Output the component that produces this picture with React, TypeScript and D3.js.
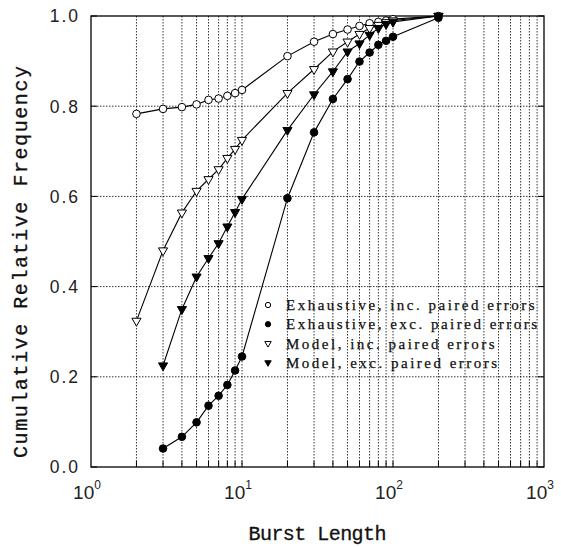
import React from "react";
import * as d3 from "d3";

const burstLengths = [2, 3, 4, 5, 6, 7, 8, 9, 10, 20, 30, 40, 50, 60, 70, 80, 90, 100, 200];
const burstLengthsFrom3 = [3, 4, 5, 6, 7, 8, 9, 10, 20, 30, 40, 50, 60, 70, 80, 90, 100, 200];

const exhaustiveInc = [0.783, 0.794, 0.798, 0.804, 0.814, 0.817, 0.823, 0.829, 0.836, 0.911, 0.943, 0.960, 0.970, 0.978, 0.984, 0.987, 0.990, 0.993, 1.0];
const exhaustiveExc = [0.041, 0.067, 0.099, 0.136, 0.158, 0.182, 0.214, 0.245, 0.596, 0.742, 0.816, 0.860, 0.899, 0.919, 0.936, 0.945, 0.954, 0.996];
const modelInc = [0.324, 0.480, 0.564, 0.612, 0.638, 0.660, 0.685, 0.705, 0.725, 0.829, 0.882, 0.921, 0.943, 0.960, 0.973, 0.980, 0.986, 0.990, 1.0];
const modelExc = [0.225, 0.350, 0.422, 0.463, 0.496, 0.533, 0.565, 0.594, 0.747, 0.826, 0.877, 0.921, 0.939, 0.958, 0.973, 0.982, 0.987, 1.0];

const seriesNames = [
  "Exhaustive, inc. paired errors",
  "Exhaustive, exc. paired errors",
  "Model, inc. paired errors",
  "Model, exc. paired errors",
];
const yTicks = [0, 0.2, 0.4, 0.6, 0.8, 1.0];
const xDecades = [0, 1, 2, 3];

type Marker = "circleOpen" | "circleFilled" | "triOpen" | "triFilled";

const series: { name: string; xs: number[]; ys: number[]; marker: Marker }[] = [
  { name: seriesNames[0], xs: burstLengths, ys: exhaustiveInc, marker: "circleOpen" },
  { name: seriesNames[1], xs: burstLengthsFrom3, ys: exhaustiveExc, marker: "circleFilled" },
  { name: seriesNames[2], xs: burstLengths, ys: modelInc, marker: "triOpen" },
  { name: seriesNames[3], xs: burstLengthsFrom3, ys: modelExc, marker: "triFilled" },
];

const W = 561;
const H = 547;
const L = 91, R = 544, T = 16, B = 467;

function MarkerShape({ type, x, y, scale = 1 }: { type: Marker; x: number; y: number; scale?: number }) {
  const filled = type === "circleFilled" || type === "triFilled";
  if (type === "circleOpen" || type === "circleFilled") {
    return <circle cx={x} cy={y} r={3.8 * scale} fill={filled ? "#000" : "#fff"} stroke="#000" strokeWidth={1} />;
  }
  const path = d3.symbol().type(d3.symbolTriangle).size(36 * scale * scale)()!;
  return (
    <path d={path} transform={`translate(${x},${y}) rotate(180)`} fill={filled ? "#000" : "#fff"} stroke="#000" strokeWidth={1} />
  );
}

export default function App() {
  const x = d3.scaleLog().domain([1, 1000]).range([L, R]);
  const y = d3.scaleLinear().domain([0, 1]).range([B, T]);

  const minor: number[] = [];
  for (let d = 0; d < 3; d++) {
    for (let k = 2; k <= 9; k++) minor.push(k * Math.pow(10, d));
  }
  const majors = [10, 100];
  const line = d3.line<[number, number]>().x((d) => x(d[0])).y((d) => y(d[1]));

  const tickFont = "'Liberation Sans', Arial, sans-serif";
  const titleFont = "'Liberation Mono', 'Courier New', monospace";

  return (
    <svg width={W} height={H} style={{ position: "absolute", left: 0, top: 0, background: "#fff" }}>
      {/* grid */}
      {[...minor, ...majors].map((v) => (
        <line key={"gx" + v} x1={x(v)} x2={x(v)} y1={T} y2={B} stroke="#000" strokeWidth={0.8} strokeDasharray="1.5,1.5" />
      ))}
      {yTicks.filter((v) => v > 0 && v < 1).map((v) => (
        <line key={"gy" + v} x1={L} x2={R} y1={y(v)} y2={y(v)} stroke="#000" strokeWidth={0.8} strokeDasharray="1.5,1.5" />
      ))}
      {/* ticks */}
      {[...minor, ...majors].map((v) => (
        <line key={"tx" + v} x1={x(v)} x2={x(v)} y1={B} y2={B - 6} stroke="#000" strokeWidth={1} />
      ))}
      {yTicks.map((v) => (
        <g key={"ty" + v}>
          <line x1={L} x2={L + 6} y1={y(v)} y2={y(v)} stroke="#000" strokeWidth={1} />
          <line x1={R} x2={R - 6} y1={y(v)} y2={y(v)} stroke="#000" strokeWidth={1} />
        </g>
      ))}
      {/* frame */}
      <rect x={L} y={T} width={R - L} height={B - T} fill="none" stroke="#000" strokeWidth={1.3} />

      {/* series */}
      {series.map((s) => (
        <path key={s.name + "l"} d={line(s.xs.map((v, i) => [v, s.ys[i]] as [number, number]))!} fill="none" stroke="#000" strokeWidth={1.1} />
      ))}
      {series.map((s) => (
        <g key={s.name + "m"}>
          {s.xs.map((v, i) => (
            <MarkerShape key={i} type={s.marker} x={x(v)} y={y(s.ys[i])} />
          ))}
        </g>
      ))}

      {/* y tick labels */}
      {yTicks.map((v) => (
        <text key={"yl" + v} x={80} y={y(v)} dy="0.36em" textAnchor="end" fontFamily={tickFont} fontSize={17.5} letterSpacing={2} fill="#222">
          {v.toFixed(1)}
        </text>
      ))}
      {/* x tick labels */}
      {xDecades.map((e) => (
        <text key={"xl" + e} x={x(Math.pow(10, e)) - 4} y={499} textAnchor="middle" fontFamily={tickFont} fontSize={19} fill="#222">
          10
          <tspan dy={-10} fontSize={12}>{e}</tspan>
        </text>
      ))}

      {/* axis titles */}
      <text x={(L + R) / 2} y={540} textAnchor="middle" fontFamily={titleFont} fontSize={20} fill="#111" stroke="#111" strokeWidth={0.3} textLength={138} lengthAdjust="spacing">
        Burst Length
      </text>
      <text transform={`translate(27,${262}) rotate(-90)`} textAnchor="middle" fontFamily={titleFont} fontSize={20} fill="#111" stroke="#111" strokeWidth={0.3} textLength={392} lengthAdjust="spacing">
        Cumulative Relative Frequency
      </text>

      {/* legend */}
      {series.map((s, i) => (
        <g key={"lg" + i}>
          <MarkerShape type={s.marker} x={268} y={305 + i * 19.2} scale={0.7} />
          <text x={286} y={305 + i * 19.2} dy="0.35em" fontFamily="'Liberation Serif', 'Times New Roman', serif" fontSize={15} letterSpacing={2.5} fill="#111" stroke="#111" strokeWidth={0.25}>
            {s.name}
          </text>
        </g>
      ))}
    </svg>
  );
}
